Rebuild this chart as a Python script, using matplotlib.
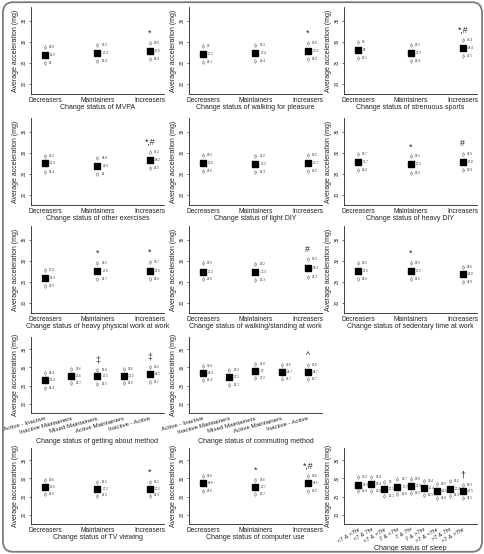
import matplotlib
matplotlib.use('Agg')
import matplotlib.pyplot as plt
import numpy as np
from matplotlib.patches import FancyBboxPatch

plt.rcParams['font.family'] = ['Liberation Sans', 'DejaVu Sans']

# ---------------- data ----------------
change_cats = ['Decreasers', 'Maintainers', 'Increasers']
method_cats = ['Active - Inactive', 'Inactive Maintainers', 'Mixed Maintainers',
               'Active Maintainers', 'Inactive - Active']
sleep_cats = ['<7 & <7hr', '<7 & 7hr', '<7 & >7hr', '7 & <7hr', '7 & 7hr',
              '7 & >7hr', '>7 & <7hr', '>7 & 7hr', '>7 & >7hr']

mvpa_mean = [26.9, 27.4, 27.8]
mvpa_upper = [28.8, 29.3, 29.8]
mvpa_lower = [25, 25.4, 25.8]
mvpa_sig = ['', '', '*']

walk_mean = [27.1, 27.4, 27.8]
walk_upper = [29, 29.3, 29.8]
walk_lower = [25.1, 25.4, 25.8]
walk_sig = ['', '', '*']

stren_mean = [28, 27.3, 28.4]
stren_upper = [30, 29.1, 30.4]
stren_lower = [26.1, 25.4, 26.5]
stren_sig = ['', '', '*,#']

other_mean = [27.5, 26.9, 28.2]
other_upper = [29.3, 28.8, 30.2]
other_lower = [25.4, 25, 26.3]
other_sig = ['', '', '*,#']

ldiy_mean = [27.6, 27.3, 27.5]
ldiy_upper = [29.5, 29.2, 29.5]
ldiy_lower = [25.6, 25.3, 25.6]
ldiy_sig = ['', '', '']

hdiy_mean = [27.7, 27.3, 27.8]
hdiy_upper = [29.7, 29.1, 29.8]
hdiy_lower = [25.8, 25.2, 25.9]
hdiy_sig = ['', '*', '#']

hwork_mean = [25.9, 27.6, 27.6]
hwork_upper = [27.8, 29.5, 29.7]
hwork_lower = [23.9, 25.7, 25.6]
hwork_sig = ['', '*', '*']

wstand_mean = [27.3, 27.3, 28.3]
wstand_upper = [29.5, 29.2, 30.3]
wstand_lower = [25.6, 25.3, 26.2]
wstand_sig = ['', '', '#']

sed_mean = [27.6, 27.5, 26.8]
sed_upper = [29.5, 29.5, 28.6]
sed_lower = [25.6, 25.6, 24.9]
sed_sig = ['', '*', '']

about_mean = [26.4, 27.6, 27.5, 27.6, 28.1]
about_upper = [28.4, 29.6, 29.4, 29.6, 30.1]
about_lower = [24.4, 25.7, 25.5, 25.6, 26.1]
about_sig = ['', '', '\u2021', '', '\u2021']

commute_mean = [28.4, 27.3, 29.0, 28.7, 28.7]
commute_upper = [30.4, 29.3, 30.9, 30.6, 30.6]
commute_lower = [26.4, 25.1, 27.2, 26.7, 26.7]
commute_sig = ['', '', '', '', '^']

tv_mean = [27.6, 27.2, 27.2]
tv_upper = [29.6, 29.1, 29.1]
tv_lower = [25.6, 25.3, 25.3]
tv_sig = ['', '', '*']

comp_mean = [28.6, 27.7, 28.6]
comp_upper = [30.6, 29.6, 30.6]
comp_lower = [26.6, 25.7, 26.6]
comp_sig = ['', '*', '*,#']

sleep_mean = [28.3, 28.4, 27.1, 27.7, 27.9, 27.4, 26.5, 27.2, 26.5]
sleep_upper = [30.3, 30.4, 29, 29.7, 29.8, 29.4, 28.5, 29.2, 28.3]
sleep_lower = [26.4, 26.4, 25.1, 25.8, 25.9, 25.5, 24.6, 25.3, 24.5]
sleep_sig = ['', '', '', '', '', '', '', '', '\u2020']

yticks = [20, 25, 30, 35]
ylabel = 'Average acceleration (mg)'

panels = [
    ('Change status of MVPA', change_cats, mvpa_mean, mvpa_upper, mvpa_lower, mvpa_sig),
    ('Change status of walking for pleasure', change_cats, walk_mean, walk_upper, walk_lower, walk_sig),
    ('Change status of strenuous sports', change_cats, stren_mean, stren_upper, stren_lower, stren_sig),
    ('Change status of other exercises', change_cats, other_mean, other_upper, other_lower, other_sig),
    ('Change status of light DIY', change_cats, ldiy_mean, ldiy_upper, ldiy_lower, ldiy_sig),
    ('Change status of heavy DIY', change_cats, hdiy_mean, hdiy_upper, hdiy_lower, hdiy_sig),
    ('Change status of heavy physical work at work', change_cats, hwork_mean, hwork_upper, hwork_lower, hwork_sig),
    ('Change status of walking/standing at work', change_cats, wstand_mean, wstand_upper, wstand_lower, wstand_sig),
    ('Change status of sedentary time at work', change_cats, sed_mean, sed_upper, sed_lower, sed_sig),
    ('Change status of getting about method', method_cats, about_mean, about_upper, about_lower, about_sig),
    ('Change status of commuting method', method_cats, commute_mean, commute_upper, commute_lower, commute_sig),
    ('Change status of TV viewing', change_cats, tv_mean, tv_upper, tv_lower, tv_sig),
    ('Change status of computer use', change_cats, comp_mean, comp_upper, comp_lower, comp_sig),
    ('Change status of sleep', sleep_cats, sleep_mean, sleep_upper, sleep_lower, sleep_sig),
]

# ---------------- layout (pixels) ----------------
W, H = 485, 554
fig = plt.figure(figsize=(W / 100, H / 100), dpi=100)
col_left = [31, 189, 344]
ax_w = 133
row_tb = [(7, 94), (118, 205), (226, 313), (337, 413), (448, 524)]
slot_for_panel = [(0, 0), (0, 1), (0, 2), (1, 0), (1, 1), (1, 2), (2, 0), (2, 1), (2, 2),
                  (3, 0), (3, 1), (4, 0), (4, 1), (4, 2)]

for i, (xl, cats, mean, up, lo, sig) in enumerate(panels):
    r, c = slot_for_panel[i]
    top, bot = row_tb[r]
    ax = fig.add_axes([col_left[c] / W, 1 - bot / H, ax_w / W, (bot - top) / H])
    n = len(cats)
    x = np.arange(n)
    pad = 0.135 * (n - 1)
    ax.set_xlim(-pad, n - 1 + pad)
    ax.set_ylim(17.5, 38.3)
    ax.plot(x, up, ls='none', marker='d', ms=2.0, mfc='white', mec='#8a8a8a', mew=0.5)
    ax.plot(x, lo, ls='none', marker='d', ms=2.0, mfc='white', mec='#8a8a8a', mew=0.5)
    ax.plot(x, mean, ls='none', marker='s', ms=3.9, color='black')
    for xi, m, u, l, s in zip(x, mean, up, lo, sig):
        for v, dx in ((u, 3.0), (m, 3.6), (l, 3.0)):
            ax.annotate('{:g}'.format(v), (xi, v), xytext=(dx, 0), textcoords='offset points',
                        fontsize=2.2, color='#333333', va='center', ha='left')
        if s:
            ax.annotate(s, (xi, u), xytext=(0, 7), textcoords='offset points',
                        fontsize=6.3, ha='center', va='center', color='#222222')
    for sp in ['top', 'right']:
        ax.spines[sp].set_visible(False)
    for sp in ['left', 'bottom']:
        ax.spines[sp].set_linewidth(0.6)
        ax.spines[sp].set_color('#222222')
    ax.set_yticks(yticks)
    ax.set_yticklabels([str(t) for t in yticks], rotation=90, va='center', fontsize=3.3, color='#333333')
    ax.tick_params(axis='y', length=1.8, width=0.4, pad=1.5)
    ax.set_xticks(x)
    ax.tick_params(axis='x', length=0, pad=2)
    if n == 3:
        ax.set_xticklabels(cats, fontsize=4.8, color='#222222')
        ax.set_xlabel(xl, fontsize=5.0, labelpad=0.3, color='#222222')
    elif n == 5:
        ax.set_xticklabels(cats, fontsize=4.4, rotation=15, ha='right', rotation_mode='anchor', color='#222222')
        ax.set_xlabel(xl, fontsize=5.0, labelpad=2.5, color='#222222')
    else:
        ax.set_xticklabels(cats, fontsize=4.1, rotation=30, ha='right', rotation_mode='anchor', color='#222222')
        ax.set_xlabel(xl, fontsize=5.0, labelpad=1.0, color='#222222')
    ax.set_ylabel(ylabel, fontsize=5.0, labelpad=2, color='#222222')

border = FancyBboxPatch((0.006, 0.004), 0.988, 0.992, boxstyle='round,pad=0,rounding_size=0.02',
                        transform=fig.transFigure, fill=False, ec='#7a7a7a', lw=1.3)
fig.patches.append(border)

fig.savefig('out.png', dpi=100)
